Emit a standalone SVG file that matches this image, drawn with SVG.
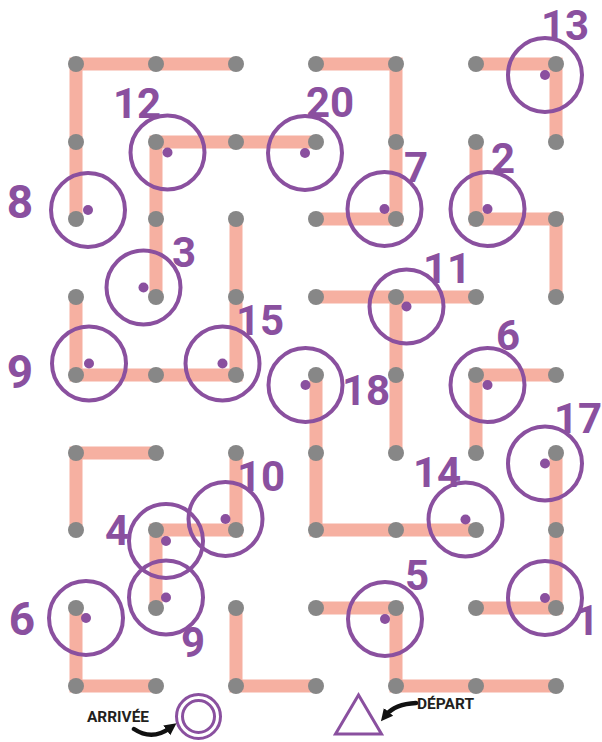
<svg xmlns="http://www.w3.org/2000/svg" width="602" height="742" viewBox="0 0 602 742">
<defs>
<style>
.w{fill:none;stroke:#F6B0A1;stroke-width:13;stroke-linejoin:miter;stroke-linecap:butt}
.d{fill:#878787}
.c{fill:none;stroke:#8A509F;stroke-width:4}
.p{fill:#8A509F}
.n{font-family:Roboto,"Liberation Sans",sans-serif;font-weight:700;font-size:42px;fill:#8A509F;text-anchor:middle}
.b{font-size:46px}
.lbl{font-family:Roboto,"Liberation Sans",sans-serif;font-weight:700;font-size:14px;fill:#231F20}
.ar{fill:none;stroke:#111;stroke-width:4.5;stroke-linecap:round}
</style>
<marker id="ah" markerUnits="userSpaceOnUse" markerWidth="14" markerHeight="14" refX="4" refY="7" orient="auto" viewBox="0 0 14 14">
<path d="M0,1 L12,7 L0,13 Z" fill="#111"/>
</marker>
</defs>
<rect width="602" height="742" fill="#fff"/>
<g id="connectors">
<path class="w" d="M236,64 H76 V219"/>
<path class="w" d="M316,64 H396 V219 H316"/>
<path class="w" d="M476,64 H556 V142"/>
<path class="w" d="M316,142 H156 V297"/>
<path class="w" d="M476,142 V219 H556 V297"/>
<path class="w" d="M236,219 V375 H76 V297"/>
<path class="w" d="M316,297 H476"/>
<path class="w" d="M396,297 V453"/>
<path class="w" d="M556,375 H476 V453"/>
<path class="w" d="M316,375 V530 H476"/>
<path class="w" d="M156,453 H76 V530"/>
<path class="w" d="M236,453 V530 H156 V608"/>
<path class="w" d="M556,453 V608 H476"/>
<path class="w" d="M316,608 H396 V686 H556"/>
<path class="w" d="M76,608 V686 H156"/>
<path class="w" d="M236,608 V686 H316"/>
</g>
<g id="grid-dots">
<g id="r0"><circle class="d" cx="76" cy="64" r="8"/><circle class="d" cx="156" cy="64" r="8"/><circle class="d" cx="236" cy="64" r="8"/><circle class="d" cx="316" cy="64" r="8"/><circle class="d" cx="396" cy="64" r="8"/><circle class="d" cx="476" cy="64" r="8"/><circle class="d" cx="556" cy="64" r="8"/></g>
<g id="r1"><circle class="d" cx="76" cy="142" r="8"/><circle class="d" cx="156" cy="142" r="8"/><circle class="d" cx="236" cy="142" r="8"/><circle class="d" cx="316" cy="142" r="8"/><circle class="d" cx="396" cy="142" r="8"/><circle class="d" cx="476" cy="142" r="8"/><circle class="d" cx="556" cy="142" r="8"/></g>
<g id="r2"><circle class="d" cx="76" cy="219" r="8"/><circle class="d" cx="156" cy="219" r="8"/><circle class="d" cx="236" cy="219" r="8"/><circle class="d" cx="316" cy="219" r="8"/><circle class="d" cx="396" cy="219" r="8"/><circle class="d" cx="476" cy="219" r="8"/><circle class="d" cx="556" cy="219" r="8"/></g>
<g id="r3"><circle class="d" cx="76" cy="297" r="8"/><circle class="d" cx="156" cy="297" r="8"/><circle class="d" cx="236" cy="297" r="8"/><circle class="d" cx="316" cy="297" r="8"/><circle class="d" cx="396" cy="297" r="8"/><circle class="d" cx="476" cy="297" r="8"/><circle class="d" cx="556" cy="297" r="8"/></g>
<g id="r4"><circle class="d" cx="76" cy="375" r="8"/><circle class="d" cx="156" cy="375" r="8"/><circle class="d" cx="236" cy="375" r="8"/><circle class="d" cx="316" cy="375" r="8"/><circle class="d" cx="396" cy="375" r="8"/><circle class="d" cx="476" cy="375" r="8"/><circle class="d" cx="556" cy="375" r="8"/></g>
<g id="r5"><circle class="d" cx="76" cy="453" r="8"/><circle class="d" cx="156" cy="453" r="8"/><circle class="d" cx="236" cy="453" r="8"/><circle class="d" cx="316" cy="453" r="8"/><circle class="d" cx="396" cy="453" r="8"/><circle class="d" cx="476" cy="453" r="8"/><circle class="d" cx="556" cy="453" r="8"/></g>
<g id="r6"><circle class="d" cx="76" cy="530" r="8"/><circle class="d" cx="156" cy="530" r="8"/><circle class="d" cx="236" cy="530" r="8"/><circle class="d" cx="316" cy="530" r="8"/><circle class="d" cx="396" cy="530" r="8"/><circle class="d" cx="476" cy="530" r="8"/><circle class="d" cx="556" cy="530" r="8"/></g>
<g id="r7"><circle class="d" cx="76" cy="608" r="8"/><circle class="d" cx="156" cy="608" r="8"/><circle class="d" cx="236" cy="608" r="8"/><circle class="d" cx="316" cy="608" r="8"/><circle class="d" cx="396" cy="608" r="8"/><circle class="d" cx="476" cy="608" r="8"/><circle class="d" cx="556" cy="608" r="8"/></g>
<g id="r8"><circle class="d" cx="76" cy="686" r="8"/><circle class="d" cx="156" cy="686" r="8"/><circle class="d" cx="236" cy="686" r="8"/><circle class="d" cx="316" cy="686" r="8"/><circle class="d" cx="396" cy="686" r="8"/><circle class="d" cx="476" cy="686" r="8"/><circle class="d" cx="556" cy="686" r="8"/></g>
</g>
<g id="n13"><circle class="c" cx="545" cy="75" r="37"/><circle class="p" cx="545" cy="75" r="5"/><text class="n" x="565" y="40">13</text></g>
<g id="n12"><circle class="c" cx="167.5" cy="152.5" r="37"/><circle class="p" cx="167.5" cy="152.5" r="5"/><text class="n" x="137" y="118">12</text></g>
<g id="n20"><circle class="c" cx="305" cy="153" r="37"/><circle class="p" cx="305" cy="153" r="5"/><text class="n" x="330" y="117">20</text></g>
<g id="n8"><circle class="c" cx="88" cy="210" r="37"/><circle class="p" cx="88" cy="210" r="5"/><text class="n b" x="20" y="218">8</text></g>
<g id="n7"><circle class="c" cx="384.5" cy="209" r="37"/><circle class="p" cx="384.5" cy="209" r="5"/><text class="n" x="416" y="182">7</text></g>
<g id="n2"><circle class="c" cx="487.5" cy="209" r="37"/><circle class="p" cx="487.5" cy="209" r="5"/><text class="n" x="503" y="173">2</text></g>
<g id="n3"><circle class="c" cx="143.5" cy="287.5" r="37"/><circle class="p" cx="143.5" cy="287.5" r="5"/><text class="n" x="184" y="267">3</text></g>
<g id="n11"><circle class="c" cx="406.5" cy="306.5" r="37"/><circle class="p" cx="406.5" cy="306.5" r="5"/><text class="n" x="447" y="283">11</text></g>
<g id="n9a"><circle class="c" cx="89" cy="363.5" r="37"/><circle class="p" cx="89" cy="363.5" r="5"/><text class="n b" x="20" y="388">9</text></g>
<g id="n15"><circle class="c" cx="222.5" cy="363.5" r="37"/><circle class="p" cx="222.5" cy="363.5" r="5"/><text class="n" x="260" y="335">15</text></g>
<g id="n18"><circle class="c" cx="305.5" cy="385" r="37"/><circle class="p" cx="305.5" cy="385" r="5"/><text class="n" x="366" y="405">18</text></g>
<g id="n6a"><circle class="c" cx="487.5" cy="385" r="37"/><circle class="p" cx="487.5" cy="385" r="5"/><text class="n" x="508" y="350">6</text></g>
<g id="n17"><circle class="c" cx="545" cy="463.5" r="37"/><circle class="p" cx="545" cy="463.5" r="5"/><text class="n" x="578" y="433">17</text></g>
<g id="n14"><circle class="c" cx="465.5" cy="519.5" r="37"/><circle class="p" cx="465.5" cy="519.5" r="5"/><text class="n" x="437" y="487">14</text></g>
<g id="n10"><circle class="c" cx="225.5" cy="519" r="37"/><circle class="p" cx="225.5" cy="519" r="5"/><text class="n" x="261" y="491">10</text></g>
<g id="n4"><circle class="c" cx="166" cy="541" r="37"/><circle class="p" cx="166" cy="541" r="5"/><text class="n" x="117" y="545">4</text></g>
<g id="n9b"><circle class="c" cx="166" cy="597.5" r="37"/><circle class="p" cx="166" cy="597.5" r="5"/><text class="n" x="193" y="657">9</text></g>
<g id="n6b"><circle class="c" cx="86" cy="618" r="37"/><circle class="p" cx="86" cy="618" r="5"/><text class="n b" x="22" y="635">6</text></g>
<g id="n5"><circle class="c" cx="385" cy="619" r="37"/><circle class="p" cx="385" cy="619" r="5"/><text class="n" x="417" y="590">5</text></g>
<g id="n1"><circle class="c" cx="545" cy="598" r="37"/><circle class="p" cx="545" cy="598" r="5"/><text class="n" x="587" y="635">1</text></g>
<g id="arrivee">
<circle cx="198.5" cy="716.5" r="22" fill="none" stroke="#8A509F" stroke-width="3"/>
<circle cx="198.5" cy="716.5" r="16" fill="none" stroke="#8A509F" stroke-width="3"/>
<text class="lbl" x="87" y="722" textLength="62" lengthAdjust="spacingAndGlyphs">ARRIVÉE</text>
<path class="ar" d="M134,729 Q152,741 170,728" marker-end="url(#ah)"/>
</g>
<g id="depart">
<path d="M358.5,695 L335.5,734 L381.5,734 Z" fill="none" stroke="#8A509F" stroke-width="3" stroke-linejoin="miter"/>
<text class="lbl" x="417" y="709" textLength="57" lengthAdjust="spacingAndGlyphs">DÉPART</text>
<path class="ar" d="M416,703 Q395,704 386,715" marker-end="url(#ah)"/>
</g>
</svg>
